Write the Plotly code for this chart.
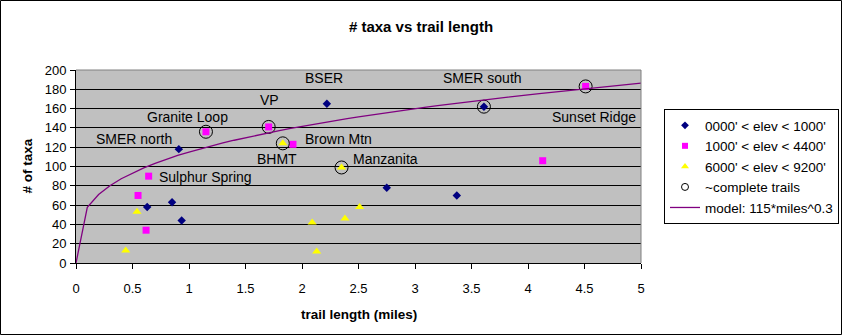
import numpy as np
import plotly.graph_objects as go

# Trail surveys grouped by elevation band: length (miles) and number of taxa
low_miles = [0.91, 0.63, 0.85, 0.935, 2.22, 3.61, 2.75, 3.37]
low_taxa = [118, 58, 63, 44, 165, 162, 78, 70]

mid_miles = [1.15, 1.705, 1.92, 0.643, 0.549, 0.62, 4.51, 4.13]
mid_taxa = [136, 141, 123, 90, 70, 34, 183, 106]

high_miles = [1.83, 2.35, 0.54, 0.44, 2.09, 2.13, 2.38, 2.51]
high_taxa = [124, 99, 53, 13, 42, 12, 46, 58]

# Trails that were surveyed (nearly) end to end
complete_miles = [1.15, 1.705, 1.83, 2.35, 3.61, 4.51]
complete_taxa = [136, 141, 124, 99, 162, 183]

# Power-law model: taxa = 115 * miles^0.3
model_coef = 115
model_exp = 0.3
model_miles = np.round(np.arange(0, 5.0001, 0.1), 1)
model_taxa = model_coef * model_miles ** model_exp

# Trail name labels
trail_names = ["BSER", "SMER south", "VP", "Granite Loop", "SMER north",
               "Brown Mtn", "BHMT", "Manzanita", "Sulphur Spring", "Sunset Ridge"]
name_x = [2.195, 3.60, 1.714, 0.987, 0.509, 2.326, 1.776, 2.742, 1.15, 4.586]
name_y = [191.7, 191.7, 169, 151, 128.5, 128.2, 107.8, 107.8, 89.4, 151]

x_ticks = [0, 0.5, 1, 1.5, 2, 2.5, 3, 3.5, 4, 4.5, 5]
y_ticks = list(range(0, 201, 20))

FONT = "Liberation Sans, Arial, sans-serif"

W, H = 842, 335
L, R, T, B = 76, 201, 70, 72
PW, PH = W - L - R, H - T - B

series = [
    dict(x=low_miles, y=low_taxa, name="0000' &lt; elev &lt; 1000'",
         symbol="diamond", size=6.5, lsize=6, color="#000080", lw=0),
    dict(x=mid_miles, y=mid_taxa, name="1000' &lt; elev &lt; 4400'",
         symbol="square", size=7, lsize=6, color="#FF00FF", lw=0),
    dict(x=high_miles, y=high_taxa, name="6000' &lt; elev &lt; 9200'",
         symbol="triangle-up", size=8, lsize=7, color="#FFFF00", lw=0),
    dict(x=complete_miles, y=complete_taxa, name="~complete trails",
         symbol="circle-open", size=13, lsize=7, color="#000000", lw=1),
]

fig = go.Figure()

for s in series:
    # plotted marks
    fig.add_trace(go.Scatter(
        x=s["x"], y=s["y"], mode="markers", name=s["name"],
        legendgroup=s["name"], showlegend=False,
        marker=dict(symbol=s["symbol"], size=s["size"], color=s["color"],
                    line=dict(width=s["lw"], color=s["color"])),
    ))
    # legend entry with a small key symbol
    fig.add_trace(go.Scatter(
        x=[None], y=[None], mode="markers", name=s["name"],
        legendgroup=s["name"], showlegend=True,
        marker=dict(symbol=s["symbol"], size=s["lsize"], color=s["color"],
                    line=dict(width=s["lw"], color=s["color"])),
    ))

fig.add_trace(go.Scatter(
    x=model_miles, y=model_taxa, mode="lines",
    name="model: 115*miles^0.3",
    line=dict(color="#800080", width=1.3),
))

annotations = []
for name, ax_, ay_ in zip(trail_names, name_x, name_y):
    annotations.append(dict(
        x=ax_, y=ay_, xref="x", yref="y", text=name, showarrow=False,
        xanchor="center", yanchor="middle",
        font=dict(family=FONT, size=14, color="#000000"),
    ))

# Axis titles
annotations.append(dict(
    x=0.5, y=(263 - 314) / PH, xref="paper", yref="paper",
    text="<b>trail length (miles)</b>", showarrow=False,
    xanchor="center", yanchor="middle",
    font=dict(family=FONT, size=13.5, color="#000000"),
))
annotations.append(dict(
    x=(27 - L) / PW, y=0.5, xref="paper", yref="paper",
    text="<b># of taxa</b>", showarrow=False, textangle=-90,
    xanchor="center", yanchor="middle",
    font=dict(family=FONT, size=13.5, color="#000000"),
))

shapes = [
    # gray frame on the top and right of the plot area
    dict(type="line", xref="paper", yref="paper", x0=0, x1=1, y0=1, y1=1,
         line=dict(color="#808080", width=1), layer="above"),
    dict(type="line", xref="paper", yref="paper", x0=1, x1=1, y0=0, y1=1,
         line=dict(color="#808080", width=1), layer="above"),
    # outer chart border
    dict(type="rect", xref="paper", yref="paper",
         x0=(0.5 - L) / PW, x1=(W - 0.5 - L) / PW,
         y0=-(B - 0.5) / PH, y1=1 + (T - 0.5) / PH,
         line=dict(color="#000000", width=1), fillcolor="rgba(0,0,0,0)",
         layer="above"),
]

fig.update_layout(
    width=W, height=H,
    margin=dict(l=L, r=R, t=T, b=B, autoexpand=False),
    paper_bgcolor="#FFFFFF",
    plot_bgcolor="#C0C0C0",
    font=dict(family=FONT, size=12, color="#000000"),
    title=dict(
        text="<b># taxa vs trail length</b>",
        x=0.5, xref="container", xanchor="center",
        y=1 - 27 / H, yref="container", yanchor="middle",
        font=dict(family=FONT, size=15, color="#000000"),
    ),
    showlegend=True,
    legend=dict(
        x=(664 - L) / PW, y=(263 - 109) / PH,
        xanchor="left", yanchor="top",
        bgcolor="#FFFFFF", bordercolor="#000000", borderwidth=1,
        font=dict(family=FONT, size=13.5, color="#000000"),
        itemwidth=30,
        tracegroupgap=0,
    ),
    xaxis=dict(
        range=[0, 5], tickvals=x_ticks, ticktext=[str(v) for v in x_ticks],
        showgrid=False, zeroline=False,
        showline=True, linecolor="#000000", linewidth=1,
        ticks="outside", ticklen=5, tickcolor="#000000",
        ticklabelstandoff=8,
        tickfont=dict(family=FONT, size=13, color="#000000"),
    ),
    yaxis=dict(
        range=[0, 200], tickvals=y_ticks,
        showgrid=True, gridcolor="#000000", gridwidth=1,
        zeroline=False,
        showline=True, linecolor="#000000", linewidth=1,
        ticks="outside", ticklen=5, tickcolor="#000000",
        ticklabelstandoff=1,
        tickfont=dict(family=FONT, size=13, color="#000000"),
    ),
    annotations=annotations,
    shapes=shapes,
)

fig.write_html("out.html")
